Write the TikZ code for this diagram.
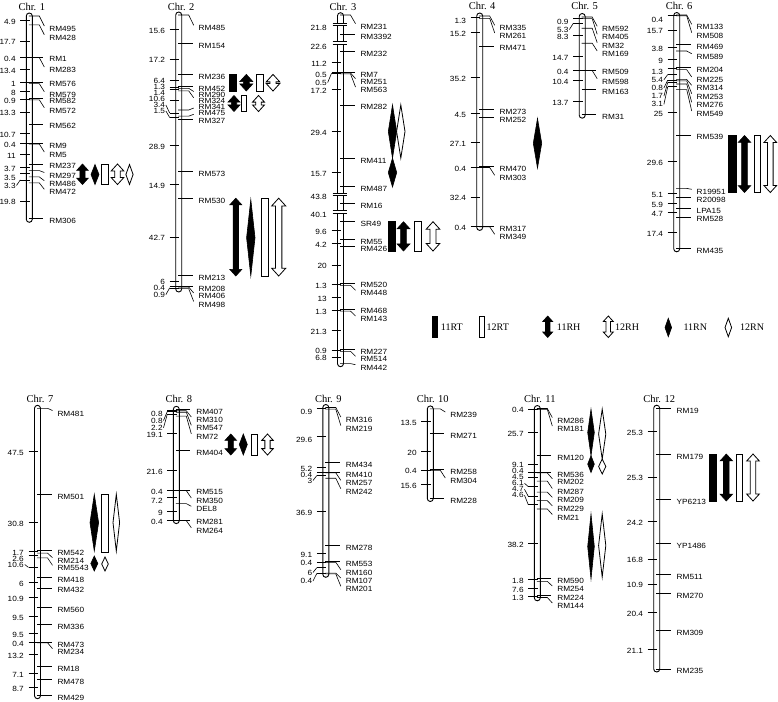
\documentclass[tikz,border=0pt]{standalone}
\usepackage{fontspec}
\setmainfont{Liberation Sans}
\newfontfamily\labf[FakeStretch=1.1]{Liberation Sans}
\newfontfamily\timesf{Liberation Serif}
\newcounter{nd}
\tikzset{
  bar/.style={draw=black, fill=white, line width=0.9pt, rounded corners=3pt},
  mline/.style={line width=0.6pt, black},
  mlab/.style={anchor=west, inner sep=0pt, font=\labf\fontsize{7.5}{7.5}\selectfont},
  nlab/.style={anchor=east, inner sep=0pt, font=\labf\fontsize{7.5}{7.5}\selectfont},
  ttl/.style={inner sep=0pt, font=\timesf\fontsize{10.5}{10.5}\selectfont},
  leg/.style={anchor=west, inner sep=0pt, font=\timesf\fontsize{10}{10}\selectfont},
  qf/.style={draw=black, fill=black, line width=0.6pt, line join=miter},
  qo/.style={draw=black, fill=white, line width=0.8pt, line join=miter},
}
\def\CMS{1.81}
\newcommand\chrom[4]{%
  \draw[bar] ({\XC-3},#2) rectangle ({\XC+3},#3);
  \stepcounter{nd}\node[ttl] (n\arabic{nd}) at ({\XC+2.5},#4) {Chr. #1};}
\newcommand\mkr[3]{%
  \pgfmathsetmacro\LL{\YO+#1*\CMS}%
  \stepcounter{nd}%
  \ifdim #2pt=0pt
    \draw[mline] ({\XC-0.5},\LL) -- ({\XC+14},\LL);
    \node[mlab] (n\arabic{nd}) at ({\XC+19.8},{\LL+2.5}) {#3};
  \else
    \pgfmathsetmacro\EE{ifthenelse(#2>\LL,#2-3,#2+1)}%
    \draw[mline] ({\XC-0.5},\LL) -- ({\XC+10},\LL) -- ({\XC+15},\EE);
    \node[mlab] (n\arabic{nd}) at ({\XC+19.8},#2) {#3};
  \fi}
\newcommand\lbl[3]{%
  \pgfmathsetmacro\LL{\YO+#1*\CMS}%
  \stepcounter{nd}%
  \draw[mline] ({\XC-9},\LL) -- ({\XC+0.5},\LL);
  \ifdim #2pt=0pt
    \node[nlab] (n\arabic{nd}) at ({\XC-13.5},{\LL+1.5}) {#3};
  \else
    \node[nlab] (n\arabic{nd}) at ({\XC-13.5},#2) {#3};
    \pgfmathtruncatemacro\BB{abs(#2-\LL-1.5)>3}%
    \ifnum\BB=1 \draw[mline] ({\XC-12.8},#2) -- ({\XC-9},\LL);\fi
  \fi}
\newcommand\plbl[2]{\stepcounter{nd}\node[nlab] (n\arabic{nd}) at ({\XC-13.5},#1) {#2};}
\newcommand\brkmark[1]{%
  \fill[white] ({\XC-3.6},{#1-1.4}) rectangle ({\XC+3.6},{#1+1.4});
  \draw[mline] ({\XC-8},{#1-1.4}) -- ({\XC+6},{#1-1.4}) ({\XC-8},{#1+1.4}) -- ({\XC+6},{#1+1.4});}
\newcommand\qarr[5]{%
  \pgfmathsetmacro\hh{min(1.1*#5,(#4-#3)/2)}%
  \pgfmathsetmacro\bw{0.45*#5}%
  \draw[#1] (#2,#3) -- ({#2+#5},{#3+\hh}) -- ({#2+\bw},{#3+\hh}) -- ({#2+\bw},{#4-\hh}) -- ({#2+#5},{#4-\hh}) -- (#2,#4) -- ({#2-#5},{#4-\hh}) -- ({#2-\bw},{#4-\hh}) -- ({#2-\bw},{#3+\hh}) -- ({#2-#5},{#3+\hh}) -- cycle;}
\newcommand\qdia[5]{\draw[#1] (#2,#3) -- ({#2+#5},{(#3+#4)/2}) -- (#2,#4) -- ({#2-#5},{(#3+#4)/2}) -- cycle;}
\newcommand\qrec[5]{\draw[#1] (#2,#4) rectangle (#3,#5);}
\begin{document}
\begin{tikzpicture}[x=1pt,y=-1pt]
\fill[white] (0,0) rectangle (778,701);
\path[use as bounding box] (0,0) rectangle (778,701);
% ---------------- Chr 1
\def\XC{29.3}\def\YO{16}
\chrom{1}{13}{222.3}{6.5}
\mkr{0}{29}{RM495}
\mkr{4.9}{37.7}{RM428}
\mkr{22.6}{0}{RM1}
\mkr{23}{70}{RM283}
\mkr{36.4}{0}{RM576}
\mkr{37.4}{94.7}{RM579}
\mkr{45.4}{0}{RM582}
\mkr{46.3}{110.7}{RM572}
\mkr{59.6}{0}{RM562}
\mkr{70.3}{0}{RM9}
\mkr{70.7}{155}{RM5}
\mkr{81.7}{0}{RM237}
\mkr{85.4}{175.5}{RM297}
\mkr{88.9}{183.7}{RM486}
\mkr{92.2}{192.3}{RM472}
\mkr{112}{0}{RM306}
\lbl{2.45}{0}{4.9}
\lbl{13.75}{0}{17.7}
\lbl{22.8}{0}{0.4}
\lbl{29.7}{0}{13.4}
\lbl{36.9}{0}{1}
\lbl{41.4}{0}{8}
\lbl{45.85}{0}{0.9}
\lbl{52.95}{0}{13.3}
\lbl{64.95}{0}{10.7}
\lbl{70.5}{0}{0.4}
\lbl{76.2}{0}{11}
\lbl{83.55}{0}{3.7}
\lbl{87.15}{177.5}{3.5}
\lbl{90.55}{185.5}{3.3}
\lbl{102.1}{0}{19.8}
\qarr{qf}{82.5}{164}{184.5}{5.8}
\qdia{qf}{95}{164.5}{184.5}{4}
\qrec{qo}{101}{108}{164}{184.5}
\qarr{qo}{117.5}{164}{184.5}{6.3}
\qdia{qo}{129.5}{164.5}{184.5}{3.6}
% ---------------- Chr 2
\def\XC{178.7}\def\YO{15}
\chrom{2}{12}{292}{6.7}
\mkr{0}{28.3}{RM485}
\mkr{15.6}{0}{RM154}
\mkr{32.8}{0}{RM236}
\mkr{39.2}{0}{RM452}
\mkr{40.5}{94.5}{RM290}
\mkr{41.9}{100.8}{RM324}
\mkr{52.5}{107}{RM341}
\mkr{55.9}{113.3}{RM475}
\mkr{57.4}{0}{RM327}
\mkr{86.3}{0}{RM573}
\mkr{101.2}{0}{RM530}
\mkr{143.9}{0}{RM213}
\mkr{149.9}{0}{RM208}
\mkr{150.3}{296}{RM406}
\mkr{151.2}{304.5}{RM498}
\lbl{7.8}{0}{15.6}
\lbl{24.2}{0}{17.2}
\lbl{36}{81}{6.4}
\lbl{39.85}{87}{1.3}
\lbl{41.2}{93}{1.4}
\lbl{47.2}{99}{10.6}
\lbl{54.2}{105}{3.4}
\lbl{56.65}{111}{1.5}
\lbl{71.85}{0}{28.9}
\lbl{93.75}{0}{14.9}
\lbl{122.55}{0}{42.7}
\lbl{146.9}{281.8}{6}
\lbl{150.1}{288.2}{0.4}
\lbl{150.75}{294.6}{0.9}
\qrec{qf}{229.3}{236.7}{74.4}{91}
\qarr{qf}{246.3}{74.4}{91}{6.5}
\qrec{qo}{256}{263}{74.4}{91}
\qarr{qo}{273}{74.4}{91}{6.8}
\qarr{qf}{234}{95.5}{111.5}{6}
\qrec{qo}{241}{246.5}{95.5}{111.5}
\qarr{qo}{258.5}{95.5}{111.5}{6}
\qarr{qf}{235.8}{198.2}{276}{6}
\qdia{qf}{250.8}{199.5}{276}{4.2}
\qrec{qo}{261}{268.3}{198.2}{276}
\qarr{qo}{278.7}{198.2}{276}{7}
% ---------------- Chr 3
\def\XC{340.5}\def\YO{0}\def\CMS{1}
\chrom{3}{12.7}{366.7}{7.3}
\brkmark{24.3}\brkmark{42.5}\brkmark{194.3}\brkmark{212}
\mkr{15}{26.7}{RM231}
\mkr{34.3}{0}{RM3392}
\mkr{51.7}{0}{RM232}
\mkr{72}{0}{RM7}
\mkr{72.9}{81.7}{RM251}
\mkr{73.8}{90}{RM563}
\mkr{104.9}{0}{RM282}
\mkr{158.1}{0}{RM411}
\mkr{186.5}{0}{RM487}
\mkr{203.3}{0}{RM16}
\mkr{221.7}{0}{SR49}
\mkr{239.1}{0}{RM55}
\mkr{246.7}{0}{RM426}
\mkr{282.9}{0}{RM520}
\mkr{285.3}{293.3}{RM448}
\mkr{308.8}{0}{RM468}
\mkr{311.1}{319}{RM143}
\mkr{349.7}{0}{RM227}
\mkr{351.3}{359.3}{RM514}
\mkr{363.6}{367.7}{RM442}
\plbl{28.3}{21.8}
\plbl{46.7}{22.6}
\plbl{196.7}{43.8}
\plbl{215}{40.1}
\lbl{61.9}{0}{11.2}
\lbl{72.45}{75}{0.5}
\lbl{73.35}{82.5}{0.5}
\lbl{89.35}{0}{17.2}
\lbl{131.5}{0}{29.4}
\lbl{172.3}{0}{15.7}
\lbl{230.4}{0}{9.6}
\lbl{242.9}{0}{4.2}
\lbl{264.8}{0}{20}
\lbl{284.1}{0}{1.3}
\lbl{297.1}{0}{13}
\lbl{310}{0}{1.3}
\lbl{330.4}{0}{21.3}
\lbl{350.5}{350.8}{0.9}
\lbl{357.5}{357.5}{6.8}
\def\CMS{1.81}
\qdia{qf}{392.5}{104.9}{158.1}{4.2}
\qdia{qf}{392.5}{158.1}{187}{4.2}
\qdia{qo}{400.8}{104.9}{158.1}{4.2}
\qrec{qf}{388}{395.3}{221.7}{251}
\qarr{qf}{403.5}{221.7}{251}{6.5}
\qrec{qo}{414.5}{421.3}{221.7}{251}
\qarr{qo}{433}{221.7}{251}{6.8}
% ---------------- Chr 4
\def\XC{479.7}\def\YO{16}
\chrom{4}{13}{230.4}{6}
\mkr{0}{28.3}{RM335}
\mkr{1.3}{36}{RM261}
\mkr{16.5}{0}{RM471}
\mkr{51.7}{0}{RM273}
\mkr{56.2}{0}{RM252}
\mkr{83.3}{0}{RM470}
\mkr{83.7}{178.3}{RM303}
\mkr{116.1}{0}{RM317}
\mkr{116.5}{237.3}{RM349}
\lbl{0.65}{20.5}{1.3}
\lbl{8.9}{0}{15.2}
\lbl{34.1}{0}{35.2}
\lbl{53.95}{0}{4.5}
\lbl{69.75}{0}{27.1}
\lbl{83.5}{0}{0.4}
\lbl{99.9}{0}{32.4}
\lbl{116.3}{0}{0.4}
\qdia{qf}{537.5}{118.5}{168}{4.2}
% ---------------- Chr 5
\def\XC{582.2}\def\YO{17}
\chrom{5}{13.5}{118.2}{6}
\mkr{0}{29.3}{RM592}
\mkr{0.9}{37.3}{RM405}
\mkr{6.2}{45.7}{RM32}
\mkr{14.5}{54}{RM169}
\mkr{29.2}{0}{RM509}
\mkr{29.6}{81.7}{RM598}
\mkr{40}{0}{RM163}
\mkr{53.7}{0}{RM31}
\lbl{0.45}{21.7}{0.9}
\lbl{3.55}{29.5}{5.3}
\lbl{10.35}{0}{8.3}
\lbl{21.85}{0}{14.7}
\lbl{29.4}{0}{0.4}
\lbl{34.8}{0}{10.4}
\lbl{46.85}{0}{13.7}
% ---------------- Chr 6
\def\XC{676.7}\def\YO{15}
\chrom{6}{12.5}{251.8}{6}
\mkr{0}{27.3}{RM133}
\mkr{0.4}{35.7}{RM508}
\mkr{16.1}{0}{RM469}
\mkr{19.9}{56.7}{RM589}
\mkr{28.9}{0}{RM204}
\mkr{30.2}{80}{RM225}
\mkr{35.6}{88.3}{RM314}
\mkr{36.4}{96.7}{RM253}
\mkr{38.1}{105.3}{RM276}
\mkr{41.2}{114}{RM549}
\mkr{66.2}{0}{RM539}
\mkr{95.8}{192.3}{R19951}
\mkr{100.9}{0}{R20098}
\mkr{106.8}{0}{LPA15}
\mkr{111.5}{0}{RM528}
\mkr{128.9}{0}{RM435}
\lbl{0.2}{19.5}{0.4}
\lbl{8.25}{0}{15.7}
\lbl{18}{0}{3.8}
\lbl{24.4}{0}{9}
\lbl{29.55}{71.7}{1.3}
\lbl{32.9}{79.8}{5.4}
\lbl{36}{88}{0.8}
\lbl{37.25}{96.2}{1.7}
\lbl{39.65}{104.4}{3.1}
\lbl{53.7}{0}{25}
\lbl{81}{0}{29.6}
\lbl{98.35}{0}{5.1}
\lbl{103.85}{0}{5.9}
\lbl{109.15}{0}{4.7}
\lbl{120.2}{0}{17.4}
\qrec{qf}{728.3}{736.7}{135.5}{192.5}
\qarr{qf}{744.5}{135.5}{192.5}{6.2}
\qrec{qo}{754}{760}{135.5}{192.5}
\qarr{qo}{770.3}{135.5}{192.5}{6.3}
% ---------------- Legend
\qrec{qf}{432.5}{437}{316}{337.5}
\node[leg] (l1) at (440.7,326.7) {11RT};
\qrec{qo}{479}{484}{316}{337.5}
\node[leg] (l2) at (486.5,326.7) {12RT};
\qarr{qf}{547.7}{316}{337.5}{5}
\node[leg] (l3) at (556.7,326.7) {11RH};
\qarr{qo}{608.3}{316}{337.5}{5}
\node[leg] (l4) at (615,326.7) {12RH};
\qdia{qf}{668.3}{318.3}{336.7}{3.3}
\node[leg] (l5) at (683.3,326.7) {11RN};
\qdia{qo}{728.3}{318.3}{336.7}{3.3}
\node[leg] (l6) at (740,326.7) {12RN};
% ---------------- Chr 7
\def\XC{37.5}\def\YO{408.3}
\chrom{7}{405.3}{698.7}{398.8}
\mkr{0}{413.5}{RM481}
\mkr{47.5}{0}{RM501}
\mkr{78.3}{0}{RM542}
\mkr{80}{560.7}{RM214}
\mkr{82.6}{568.3}{RM5543}
\mkr{93.2}{0}{RM418}
\mkr{99.2}{0}{RM432}
\mkr{110.1}{0}{RM560}
\mkr{119.6}{0}{RM336}
\mkr{129.1}{0}{RM473}
\mkr{129.5}{651.7}{RM234}
\mkr{142.7}{0}{RM18}
\mkr{149.8}{0}{RM478}
\mkr{158.5}{0}{RM429}
\lbl{23.75}{0}{47.5}
\lbl{62.9}{0}{30.8}
\lbl{79.15}{552.5}{1.7}
\lbl{81.3}{558.5}{2.6}
\lbl{87.9}{564.5}{10.6}
\lbl{96.2}{0}{6}
\lbl{104.65}{0}{10.9}
\lbl{114.85}{0}{9.5}
\lbl{124.35}{0}{9.5}
\lbl{129.3}{0}{0.4}
\lbl{136.1}{0}{13.2}
\lbl{146.25}{0}{7.1}
\lbl{154.15}{0}{8.7}
\qdia{qf}{94.3}{494.3}{551}{4.3}
\qdia{qf}{94.3}{556}{571}{3.5}
\qrec{qo}{101}{108.5}{494.3}{552}
\qdia{qo}{116.3}{494.3}{551}{3.3}
\qdia{qo}{105}{557}{571}{3.3}
% ---------------- Chr 8
\def\XC{176.3}\def\YO{409.3}
\chrom{8}{406.3}{523.6}{398.8}
\mkr{0}{0}{RM407}
\mkr{0.8}{420}{RM310}
\mkr{1.6}{428.3}{RM547}
\mkr{3.8}{436.8}{RM72}
\mkr{22.9}{0}{RM404}
\mkr{44.5}{0}{RM515}
\mkr{44.9}{501}{RM350}
\mkr{52.1}{509.3}{DEL8}
\mkr{61.1}{0}{RM281}
\mkr{61.5}{530.7}{RM264}
\lbl{0.4}{413.5}{0.8}
\lbl{1.2}{420.5}{0.8}
\lbl{2.7}{427.8}{2.2}
\lbl{13.35}{0}{19.1}
\lbl{33.7}{0}{21.6}
\lbl{44.7}{0}{0.4}
\lbl{48.5}{500.5}{7.2}
\lbl{56.6}{0}{9}
\lbl{61.3}{0}{0.4}
\qarr{qf}{230.8}{434}{455}{5.8}
\qdia{qf}{243.3}{434}{455}{4}
\qrec{qo}{251}{257.5}{434}{455}
\qarr{qo}{267.5}{434}{455}{5.8}
% ---------------- Chr 9
\def\XC{325.8}\def\YO{407.5}
\chrom{9}{404.5}{577.3}{398.8}
\mkr{0}{420}{RM316}
\mkr{0.9}{428.5}{RM219}
\mkr{30.5}{0}{RM434}
\mkr{35.7}{0}{RM410}
\mkr{36.1}{483.3}{RM257}
\mkr{39.1}{491.7}{RM242}
\mkr{76}{0}{RM278}
\mkr{85.1}{0}{RM553}
\mkr{85.5}{572.7}{RM160}
\mkr{91.5}{581}{RM107}
\mkr{91.9}{589.3}{RM201}
\lbl{0.45}{412}{0.9}
\lbl{15.75}{440}{29.6}
\lbl{33.1}{468.5}{5.2}
\lbl{35.9}{474.5}{0.4}
\lbl{37.6}{480.5}{3}
\lbl{57.55}{0}{36.9}
\lbl{80.55}{0}{9.1}
\lbl{85.3}{0}{0.4}
\lbl{88.5}{572.5}{6}
\lbl{91.7}{581}{0.4}
% ---------------- Chr 10
\def\XC{430.3}\def\YO{408.9}
\chrom{10}{405.9}{501.5}{398.8}
\mkr{0}{415}{RM239}
\mkr{13.5}{0}{RM271}
\mkr{33.5}{0}{RM258}
\mkr{33.9}{481}{RM304}
\mkr{49.5}{0}{RM228}
\lbl{6.75}{0}{13.5}
\lbl{23.5}{0}{20}
\lbl{33.7}{0}{0.4}
\lbl{41.7}{0}{15.6}
% ---------------- Chr 11
\def\XC{537.3}\def\YO{408.5}
\chrom{11}{405.5}{600.8}{398.8}
\mkr{0}{420.5}{RM286}
\mkr{0.4}{429}{RM181}
\mkr{26.1}{0}{RM120}
\mkr{35.2}{0}{RM536}
\mkr{35.6}{481.7}{RM202}
\mkr{40.1}{491.5}{RM287}
\mkr{46.2}{500.3}{RM209}
\mkr{50.9}{508.8}{RM229}
\mkr{55.5}{517.5}{RM21}
\mkr{93.7}{0}{RM590}
\mkr{95.5}{589}{RM254}
\mkr{103.1}{0}{RM224}
\mkr{104.4}{606}{RM144}
\lbl{0.2}{0}{0.4}
\lbl{13.25}{0}{25.7}
\lbl{30.65}{465.3}{9.1}
\lbl{35.4}{471.3}{0.4}
\lbl{37.85}{477.3}{4.5}
\lbl{43.15}{483.3}{6.1}
\lbl{48.55}{489.3}{4.7}
\lbl{53.2}{495.3}{4.6}
\lbl{74.6}{0}{38.2}
\lbl{94.6}{0}{1.8}
\lbl{99.3}{0}{7.6}
\lbl{103.75}{0}{1.3}
\qdia{qf}{591}{409.2}{455.7}{3.3}
\qdia{qf}{591}{455.7}{472.5}{3.3}
\qdia{qo}{602.2}{409.2}{459}{3.6}
\qdia{qo}{602.2}{459}{474}{3.6}
\qdia{qf}{591}{514}{579}{3.3}
\qdia{qo}{602.2}{514}{577}{3.6}
% ---------------- Chr 12
\def\XC{656.7}\def\YO{408.2}
\chrom{12}{405.2}{672}{398.8}
\mkr{0}{0}{RM19}
\mkr{25.3}{0}{RM179}
\mkr{50.6}{0}{YP6213}
\mkr{74.8}{0}{YP1486}
\mkr{91.6}{0}{RM511}
\mkr{102.5}{0}{RM270}
\mkr{122.9}{0}{RM309}
\mkr{144}{0}{RM235}
\lbl{12.65}{0}{25.3}
\lbl{37.95}{0}{25.3}
\lbl{62.7}{0}{24.2}
\lbl{83.2}{0}{16.8}
\lbl{97.05}{0}{10.9}
\lbl{112.7}{0}{20.4}
\lbl{133.45}{0}{21.1}
\qrec{qf}{709}{716.7}{454}{501}
\qarr{qf}{726.3}{454}{501}{6.3}
\qrec{qo}{736}{742.3}{454}{501}
\qarr{qo}{753}{454}{501}{6.3}
\end{tikzpicture}
\end{document}
